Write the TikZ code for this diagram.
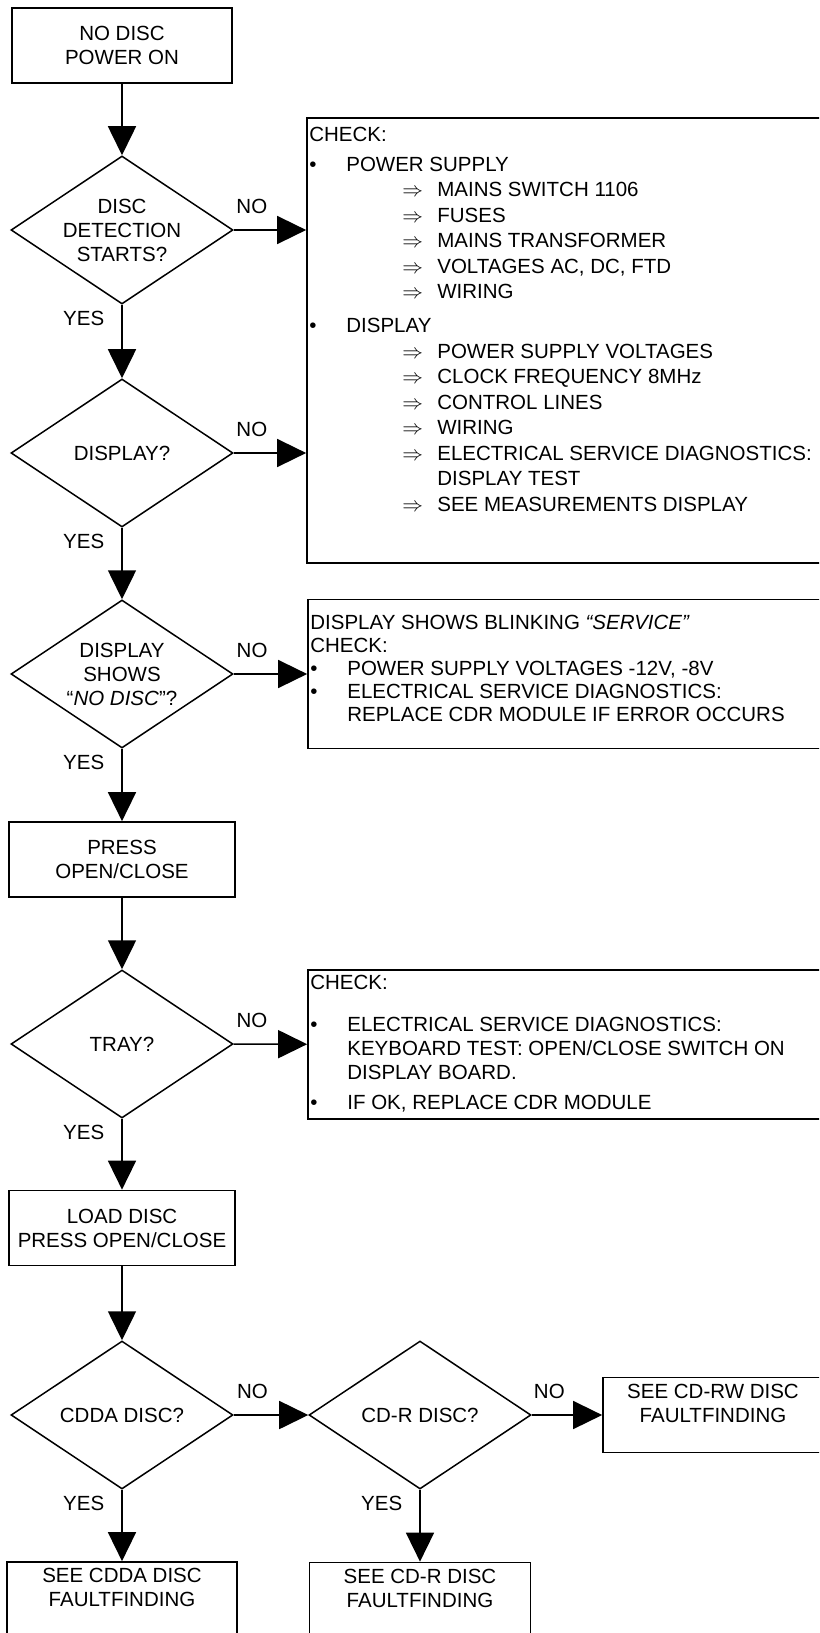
\documentclass[tikz,border=0pt]{standalone}
\usepackage{fontspec}
\setmainfont{Liberation Sans}
\usepackage{tikz}
\usetikzlibrary{arrows.meta, shapes.geometric, calc, positioning}
\newcommand{\flowFont}{\fontsize{20.5bp}{24bp}\selectfont}
\tikzset{
    flowBox/.style={rectangle, draw, line width=1.7bp, inner sep=0pt, align=center, font=\flowFont, minimum width=226bp, minimum height=75bp},
    flowDecision/.style={diamond, draw, line width=1.5bp, inner sep=0pt, aspect=1.5, align=center, font=\flowFont, minimum width=222bp, minimum height=148bp},
    flowCheck/.style={rectangle, draw, line width=1.7bp, inner sep=0pt, minimum width=523bp},
    flowNote/.style={anchor=north west, inner sep=0pt, align=left},
    flowEdge/.style={-{Triangle[length=29bp, width=28bp]}, line width=1.6bp},
    noLabel/.style={pos=0.25, above=16bp, inner sep=0pt, font=\flowFont},
    yesLabel/.style={pos=0.19, left=17bp, inner sep=0pt, font=\flowFont},
}
\newcommand{\drawNo}[2]{
    \draw[flowEdge] (#1) -- node[noLabel] {NO} (#2);
}
\newcommand{\drawYes}[2]{
    \draw[flowEdge] (#1) -- node[yesLabel] {YES} (#2);
}
% lines of the check lists
\newcommand{\chkItem}[1]{\makebox[37bp][l]{\textbullet}#1}
\newcommand{\chkSub}[1]{\hspace*{93bp}\makebox[35bp][l]{$\Rightarrow$}#1}
\newcommand{\chkMore}[2][128bp]{\hspace*{#1}#2}

\begin{document}
\begin{tikzpicture}[x=1bp, y=-1bp]
    \useasboundingbox (0,0) rectangle (819,1633);
    \clip (0,0) rectangle (819,1633);

    \node[flowBox, minimum width=220bp] (start) at (122, 45.5) {NO DISC\\POWER ON};
    \node[flowDecision] (detect) at (122, 230) {DISC\\DETECTION\\STARTS?};
    \node[flowDecision] (display) at (122, 453) {DISPLAY?};
    \node[flowDecision] (nodisc) at (122, 674) {DISPLAY\\SHOWS\\“\textit{NO DISC}”?};
    \node[flowBox] (press) at (122, 859.5) {PRESS\\OPEN/CLOSE};
    \node[flowDecision] (tray) at (122, 1044) {TRAY?};
    \node[flowBox] (load) at (122, 1228) {LOAD DISC\\PRESS OPEN/CLOSE};
    \node[flowDecision] (cdda) at (122, 1415) {CDDA DISC?};
    \node[flowDecision] (cdr) at (420, 1415) {CD-R DISC?};
    \node[flowBox, minimum width=220bp] (seeRw) at (713, 1415) {SEE CD-RW DISC\\FAULTFINDING\\\mbox{}};
    \node[flowBox, minimum width=230bp] (seeCdda) at (122, 1599.5) {SEE CDDA DISC\\FAULTFINDING\\\mbox{}};
    \node[flowBox, minimum width=221bp] (seeCdr) at (420, 1600) {SEE CD-R DISC\\FAULTFINDING\\\mbox{}};

    % check boxes, text set from their top left corner
    \node[flowCheck, minimum height=445bp] (chkPower) at (568.5, 340.5) {};
    \node[flowCheck, minimum height=149bp] (chkService) at (569.5, 674) {};
    \node[flowCheck, minimum height=149bp] (chkTray) at (569.5, 1044.5) {};

    \node[flowNote, font=\fontsize{20.5bp}{25.5bp}\selectfont] (txtPower) at ($(chkPower.north west)+(3,9.5)$) {CHECK:\\[4.5bp]
        \chkItem{POWER SUPPLY}\\
        \chkSub{MAINS SWITCH 1106}\\
        \chkSub{FUSES}\\
        \chkSub{MAINS TRANSFORMER}\\
        \chkSub{VOLTAGES AC, DC, FTD}\\
        \chkSub{WIRING}\\[8.5bp]
        \chkItem{DISPLAY}\\
        \chkSub{POWER SUPPLY VOLTAGES}\\
        \chkSub{CLOCK FREQUENCY 8MHz}\\
        \chkSub{CONTROL LINES}\\
        \chkSub{WIRING}\\
        \chkSub{ELECTRICAL SERVICE DIAGNOSTICS:}\\
        \chkMore{DISPLAY TEST}\\
        \chkSub{SEE MEASUREMENTS DISPLAY}};
    \node[flowNote, font=\fontsize{20.5bp}{23bp}\selectfont] (txtService) at ($(chkService.north west)+(3,16)$) {DISPLAY SHOWS BLINKING \textit{“SERVICE”}\\
        CHECK:\\
        \chkItem{POWER SUPPLY VOLTAGES -12V, -8V}\\
        \chkItem{ELECTRICAL SERVICE DIAGNOSTICS:}\\
        \chkMore[37bp]{REPLACE CDR MODULE IF ERROR OCCURS}};
    \node[flowNote, font=\fontsize{20.5bp}{24bp}\selectfont] (txtTray) at ($(chkTray.north west)+(3,5.5)$) {CHECK:\\[18bp]
        \chkItem{ELECTRICAL SERVICE DIAGNOSTICS:}\\
        \chkMore[37bp]{KEYBOARD TEST: OPEN/CLOSE SWITCH ON}\\
        \chkMore[37bp]{DISPLAY BOARD.}\\[6bp]
        \chkItem{IF OK, REPLACE CDR MODULE}};

    \draw[flowEdge] (start) -- (detect);
    \drawNo{detect}{detect -| chkPower.west}
    \drawYes{detect}{display}
    \drawNo{display}{display -| chkPower.west}
    \drawYes{display}{nodisc}
    \drawNo{nodisc}{chkService}
    \drawYes{nodisc}{press}
    \draw[flowEdge] (press) -- (tray);
    \drawNo{tray}{chkTray}
    \drawYes{tray}{load}
    \draw[flowEdge] (load) -- (cdda);
    \drawNo{cdda}{cdr}
    \drawYes{cdda}{seeCdda}
    \drawNo{cdr}{seeRw}
    \drawYes{cdr}{seeCdr}

\end{tikzpicture}
\end{document}
